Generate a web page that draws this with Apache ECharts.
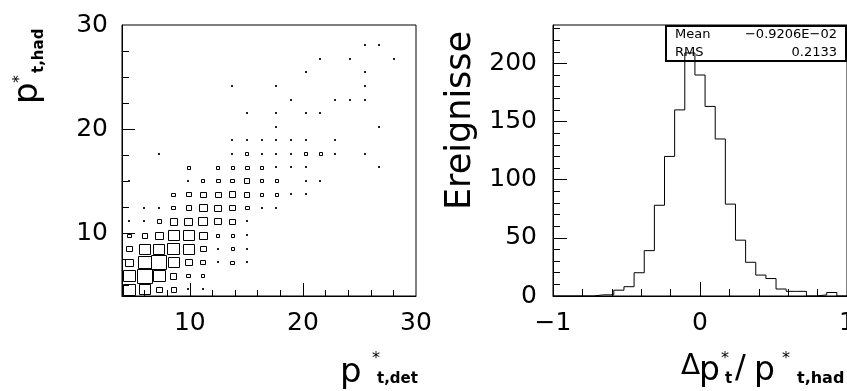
<!DOCTYPE html>
<html><head><meta charset="utf-8">
<script src="https://cdn.jsdelivr.net/npm/echarts@6/dist/echarts.min.js"></script>
<style>html,body{margin:0;padding:0;background:#fff}#c{width:847px;height:391px}</style>
</head><body><div id="c"></div>
<script>
// ---- 2D histogram (box plot): 20 x 20 bins from 4 to 30 in both directions
const box2dX = [4, 30];
const box2dY = [4, 30];
const box2dBins = 20;
// rows from bottom (y bin 1) to top (y bin 20); each row = counts of x bins 1..20
const boxRow01 = [37,32,9,7,1,1,0,0,0,0,0,0,0,0,0,0,0,0,0,0];
const boxRow02 = [37,60,43,10,4,3,0,0,0,0,0,0,0,0,0,0,0,0,0,0];
const boxRow03 = [16,45,60,34,12,6,1,4,1,0,0,0,0,0,0,0,0,0,0,0];
const boxRow04 = [9,32,34,37,31,9,1,3,1,0,0,0,0,0,0,0,0,0,0,0];
const boxRow05 = [4,7,18,31,31,18,3,3,1,0,0,0,0,0,0,0,0,0,0,0];
const boxRow06 = [1,2,5,14,17,23,12,9,1,0,0,0,0,0,0,0,0,0,0,0];
const boxRow07 = [0,1,2,4,7,17,12,9,4,1,2,0,0,0,0,0,0,0,0,0];
const boxRow08 = [0,0,0,4,6,9,9,11,7,3,3,1,1,0,0,0,0,0,0,0];
const boxRow09 = [1,0,0,0,2,3,4,4,7,3,3,0,1,1,0,0,0,0,0,0];
const boxRow10 = [0,0,0,0,3,0,3,3,4,3,1,2,2,0,0,0,0,1,0,0];
const boxRow11 = [0,0,1,0,0,0,0,1,3,2,2,2,3,3,1,0,1,0,0,0];
const boxRow12 = [0,0,0,0,0,0,0,1,1,1,1,2,2,0,2,0,0,0,0,0];
const boxRow13 = [0,0,0,0,0,0,0,0,0,0,1,0,0,0,0,0,0,1,0,0];
const boxRow14 = [0,0,0,0,0,0,0,0,1,0,1,0,2,1,0,0,0,0,0,0];
const boxRow15 = [0,0,0,0,0,0,0,0,0,0,0,2,0,0,1,1,1,0,0,0];
const boxRow16 = [0,0,0,0,0,0,0,1,0,0,1,0,0,0,0,0,1,0,0,0];
const boxRow17 = [0,0,0,0,0,0,0,0,0,0,0,0,1,0,0,0,1,0,0,0];
const boxRow18 = [0,0,0,0,0,0,0,0,0,0,0,0,0,1,0,1,0,0,1,0];
const boxRow19 = [0,0,0,0,0,0,0,0,0,0,0,0,0,0,0,0,1,1,0,0];
const boxRow20 = [0,0,0,0,0,0,0,0,0,0,0,0,0,0,0,0,0,0,0,0];
const boxRows = [boxRow01,boxRow02,boxRow03,boxRow04,boxRow05,boxRow06,boxRow07,boxRow08,boxRow09,boxRow10,
                 boxRow11,boxRow12,boxRow13,boxRow14,boxRow15,boxRow16,boxRow17,boxRow18,boxRow19,boxRow20];

// ---- 1D histogram: 29 bins from -1 to 1
const histRange = [-1, 1];
const histCounts = [0,0,0,0,1,1,5,8,20,39,78,120,160,209,190,163,135,79,48,29,18,15,6,4,4,0,1,3,0];
const histYMax = 233;
const statMean = '\u22120.9206E\u221202';
const statRms = '0.2133';

// ---- tick values / labels
const leftXLabels = [10, 20, 30];
const leftXMajor = [10, 20];
const leftXMinor = [6, 8, 12, 14, 16, 18, 22, 24, 26, 28];
const leftYLabels = [10, 20, 30];
const leftYMajor = [10, 20];
const leftYMinor = [5, 7.5, 12.5, 15, 17.5, 22.5, 25, 27.5];
const rightXLabels = [-1, 0, 1];
const rightXMajor = [0];
const rightXMinor = [-0.8, -0.6, -0.4, -0.2, 0.2, 0.4, 0.6, 0.8];
const rightYLabels = [0, 50, 100, 150, 200];
const rightYMajor = [50, 100, 150, 200];
const rightYMinor = [10,20,30,40,60,70,80,90,110,120,130,140,160,170,180,190,210,220,230];

// ---- build data
const bwX = (box2dX[1] - box2dX[0]) / box2dBins;
const bwY = (box2dY[1] - box2dY[0]) / box2dBins;
let boxMax = 0;
const boxData = [];
boxRows.forEach((row, r) => row.forEach((v, c) => {
  if (v > 0) {
    boxData.push([box2dX[0] + (c + 0.5) * bwX, box2dY[0] + (r + 0.5) * bwY, v]);
    boxMax = Math.max(boxMax, v);
  }
}));
const hw = (histRange[1] - histRange[0]) / histCounts.length;
const stepData = histCounts.map((v, i) => [histRange[0] + i * hw, v]);
stepData.push([histRange[1], histCounts[histCounts.length - 1]]);

const FONT = "'DejaVu Sans', sans-serif";
const black = '#000';
const fmt = v => (v < 0 ? '\u2212' + Math.abs(v) : String(v));

function mainAxis(gridIndex, position, min, max, labels, major, len, margin) {
  return {
    gridIndex, position, type: 'value', min, max,
    axisLine: { show: true, onZero: false, lineStyle: { color: black, width: 1 } },
    axisTick: { show: true, inside: true, length: len, customValues: major, lineStyle: { color: black, width: 1 } },
    axisLabel: { show: true, customValues: labels, margin, fontSize: 25, fontFamily: FONT, color: black, formatter: fmt },
    splitLine: { show: false }
  };
}
function minorAxis(gridIndex, position, min, max, minor, len) {
  return {
    gridIndex, position, type: 'value', min, max, offset: 0,
    axisLine: { show: false, onZero: false },
    axisTick: { show: true, inside: true, length: len, customValues: minor, lineStyle: { color: black, width: 1 } },
    axisLabel: { show: false },
    splitLine: { show: false }
  };
}

function txt(x, y, text, size, opts) {
  opts = opts || {};
  return {
    type: 'text', x, y, rotation: opts.rot || 0, z: 20,
    style: {
      text, fill: black,
      font: (opts.bold ? 'bold ' : '') + size + 'px ' + FONT,
      textAlign: opts.align || 'left', textVerticalAlign: 'middle'
    }
  };
}
const R = Math.PI / 2;

const chart = echarts.init(document.getElementById('c'), null, { renderer: 'canvas' });
chart.setOption({
  animation: false,
  backgroundColor: '#fff',
  grid: [
    { left: 122, top: 25, width: 294, height: 271, show: true, borderColor: black, borderWidth: 1,
      backgroundColor: 'transparent', containLabel: false, outerBoundsMode: 'none' },
    { left: 553, top: 25, width: 294, height: 271, show: true, borderColor: black, borderWidth: 1,
      backgroundColor: 'transparent', containLabel: false, outerBoundsMode: 'none' }
  ],
  xAxis: [
    mainAxis(0, 'bottom', box2dX[0], box2dX[1], leftXLabels, leftXMajor, 13, 15),
    minorAxis(0, 'bottom', box2dX[0], box2dX[1], leftXMinor, 6),
    mainAxis(1, 'bottom', histRange[0], histRange[1], rightXLabels, rightXMajor, 14, 15),
    minorAxis(1, 'bottom', histRange[0], histRange[1], rightXMinor, 7)
  ],
  yAxis: [
    mainAxis(0, 'left', box2dY[0], box2dY[1], leftYLabels, leftYMajor, 13, 14),
    minorAxis(0, 'left', box2dY[0], box2dY[1], leftYMinor, 7),
    mainAxis(1, 'left', 0, histYMax, rightYLabels, rightYMajor, 14, 16),
    minorAxis(1, 'left', 0, histYMax, rightYMinor, 7)
  ],
  series: [
    {
      type: 'custom', xAxisIndex: 0, yAxisIndex: 0, z: 5,
      encode: { x: 0, y: 1 },
      data: boxData,
      renderItem: function (params, api) {
        const c = api.coord([api.value(0), api.value(1)]);
        const s = api.size([bwX, bwY]);
        const f = Math.sqrt(api.value(2) / boxMax);
        let w = Math.round(s[0] * f), h = Math.round(s[1] * f);
        if (w < 3 || h < 3) {
          return { type: 'rect', shape: { x: Math.round(c[0] - 1), y: Math.round(c[1] - 1), width: 2, height: 2 },
                   style: { fill: '#222', stroke: null } };
        }
        return {
          type: 'rect',
          shape: { x: Math.round(c[0] - w / 2) + 0.5, y: Math.round(c[1] - h / 2) + 0.5, width: w, height: h },
          style: { fill: null, stroke: black, lineWidth: 1 }
        };
      }
    },
    {
      type: 'line', xAxisIndex: 2, yAxisIndex: 2, z: 10,
      step: 'end', showSymbol: false, symbol: 'none',
      data: stepData,
      lineStyle: { color: black, width: 1 },
      clip: true
    }
  ],
  graphic: [
    { type: 'rect', z: 3, shape: { x: 666, y: 26, width: 180, height: 35 },
      style: { fill: '#fff', stroke: black, lineWidth: 2 } },
    txt(675, 35, 'Mean', 13),
    txt(837, 35, statMean, 13, { align: 'right' }),
    txt(675, 53, 'RMS', 13),
    txt(837, 53, statRms, 13, { align: 'right' }),
    // left y title: p*_{t,had}
    txt(28, 104, 'p', 34, { rot: R }),
    txt(20, 83, '*', 16, { rot: R }),
    txt(38.8, 73, 't,had', 15, { rot: R, bold: true }),
    // left x title: p*_{t,det}
    txt(340, 373, 'p', 34),
    txt(372, 358.5, '*', 16),
    txt(377, 379, 't,det', 15, { bold: true }),
    // right y title
    txt(461, 210, 'Ereignisse', 35, { rot: R }),
    // right x title: Δp*_t / p*_{t,had}
    txt(681, 367, '\u0394', 28),
    txt(699, 371, 'p', 33),
    txt(721, 358.5, '*', 16),
    txt(725, 379, 't', 15, { bold: true }),
    txt(735, 369, '/', 32),
    txt(754, 371, 'p', 33),
    txt(782, 358.5, '*', 16),
    txt(797, 379, 't,had', 16, { bold: true })
  ]
});
</script>
</body></html>
